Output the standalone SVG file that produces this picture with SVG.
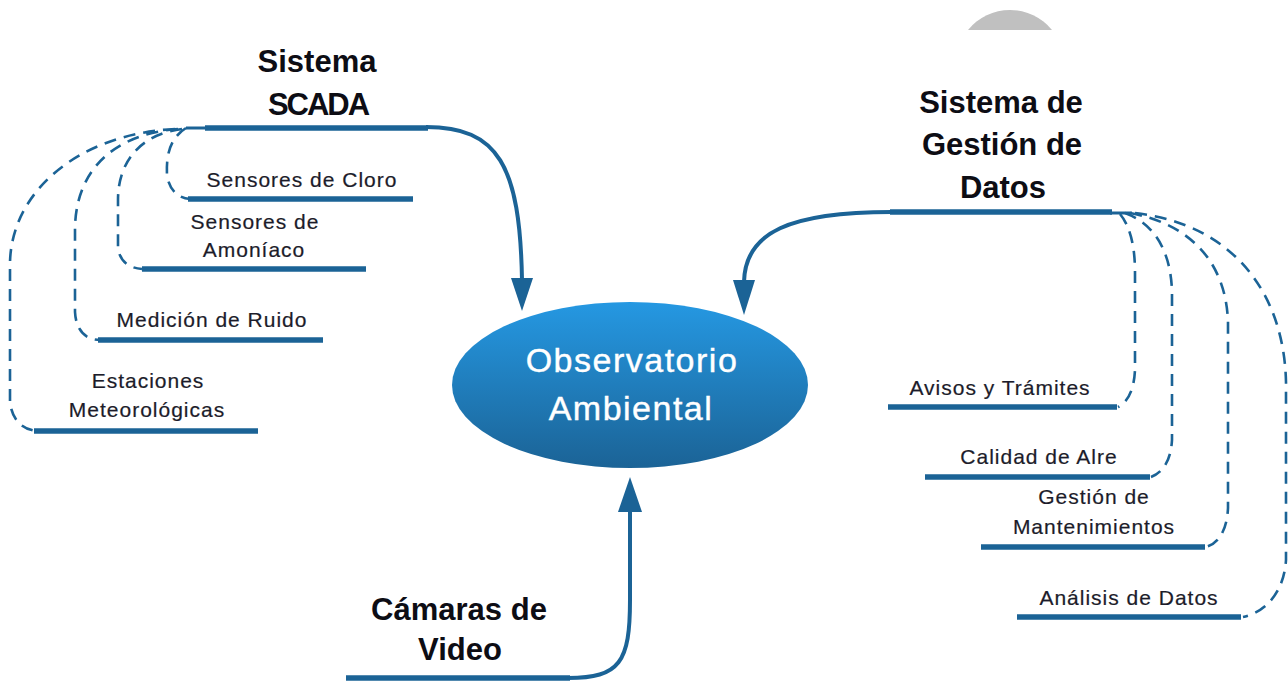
<svg xmlns="http://www.w3.org/2000/svg" width="1288" height="689" viewBox="0 0 1288 689">
<style>
.hdr{font-family:"Liberation Sans",Arial,sans-serif;font-weight:bold;font-size:31px;fill:#0d0d14;text-anchor:middle}
.lbl{font-family:"Liberation Sans",Arial,sans-serif;font-size:21px;letter-spacing:1px;fill:#1c1c2a;stroke:#1c1c2a;stroke-width:0.2;text-anchor:middle}
.ctr{font-family:"Liberation Sans",Arial,sans-serif;font-size:34px;letter-spacing:1.5px;fill:#ffffff;stroke:#ffffff;stroke-width:0.4;text-anchor:middle}
.bar{stroke:#1b6396;stroke-width:5.5;fill:none}
.thin{stroke:#1b6396;stroke-width:3;fill:none}
.arr{stroke:#1b6396;stroke-width:4;fill:none}
.dash{stroke:#1b6396;stroke-width:2.6;fill:none;stroke-dasharray:12 8}
.head{fill:#1b6396}
</style>
<defs>
<linearGradient id="eg" x1="0" y1="0" x2="0" y2="1">
<stop offset="0" stop-color="#2598e2"/>
<stop offset="1" stop-color="#1b6396"/>
</linearGradient>
</defs>
<rect width="1288" height="689" fill="#ffffff"/>
<path d="M968,30 A54,54 0 0 1 1052,30 Z" fill="#c0c0c0"/>

<g id="connectors">
<path class="thin" d="M186,128 L205,128"/>
<path class="arr" d="M426,127 C498,127 520,165 522,280"/>
<polygon class="head" points="511,278 533,278 522,311"/>
<path class="thin" d="M1110,213 L1132,213"/>
<path class="arr" d="M892,212 C790,212 745,232 744,282"/>
<polygon class="head" points="733,280 755,280 744,315"/>
<path class="arr" d="M568,678 C620,678 630,662 630,600 L630,510"/>
<polygon class="head" points="618,512 642,512 630,477"/>
<path class="dash" d="M186,128 C170,138 166,155 167,175 C169,190 178,198 190,199"/>
<path class="dash" d="M182,129 C142,134 118,160 118,200 L118,245 C118,259 127,268 142,269"/>
<path class="dash" d="M178,129 C112,134 75,172 75,230 L75,312 C76,331 86,340 100,340"/>
<path class="dash" d="M175,129 C80,134 12,190 10,262 L10,402 C12,420 22,429 36,431"/>
<path class="dash" d="M1120,214 C1130,226 1135,246 1135,272 L1135,370 C1134,390 1128,402 1118,407"/>
<path class="dash" d="M1125,213 C1155,224 1171,252 1172,292 L1172,440 C1171,459 1164,472 1151,477"/>
<path class="dash" d="M1130,213 C1190,224 1226,262 1228,322 L1228,508 C1227,530 1219,543 1206,547"/>
<path class="dash" d="M1135,213 C1232,224 1284,292 1286,382 L1286,560 C1284,592 1266,612 1243,617"/>
</g>

<g id="center">
<ellipse cx="630" cy="385" rx="178" ry="83" fill="url(#eg)"/>
<text class="ctr" x="632" y="372">Observatorio</text>
<text class="ctr" x="631" y="420">Ambiental</text>
</g>

<g id="scada">
<line class="bar" x1="205" y1="128" x2="428" y2="128"/>
<text class="hdr" x="317" y="72">Sistema</text>
<text class="hdr" x="318" y="115" letter-spacing="-2">SCADA</text>
</g>

<g id="gestion">
<line class="bar" x1="890" y1="212" x2="1112" y2="212"/>
<text class="hdr" x="1001" y="113">Sistema de</text>
<text class="hdr" x="1002" y="155">Gestión de</text>
<text class="hdr" x="1003" y="198">Datos</text>
</g>

<g id="camaras">
<line class="bar" x1="346" y1="678" x2="570" y2="678"/>
<text class="hdr" x="459" y="620">Cámaras de</text>
<text class="hdr" x="460" y="660">Video</text>
</g>

<g id="cloro">
<line class="bar" x1="188" y1="199" x2="413" y2="199"/>
<text class="lbl" x="302" y="187">Sensores de Cloro</text>
</g>
<g id="amoniaco">
<line class="bar" x1="142" y1="269" x2="366" y2="269"/>
<text class="lbl" x="255" y="229">Sensores de</text>
<text class="lbl" x="254" y="257">Amoníaco</text>
</g>
<g id="ruido">
<line class="bar" x1="98" y1="340" x2="323" y2="340"/>
<text class="lbl" x="212" y="327">Medición de Ruido</text>
</g>
<g id="estaciones">
<line class="bar" x1="34" y1="431" x2="258" y2="431"/>
<text class="lbl" x="148" y="388">Estaciones</text>
<text class="lbl" x="147" y="417">Meteorológicas</text>
</g>

<g id="avisos">
<line class="bar" x1="888" y1="407" x2="1117" y2="407"/>
<text class="lbl" x="1000" y="395">Avisos y Trámites</text>
</g>
<g id="calidad">
<line class="bar" x1="925" y1="477" x2="1150" y2="477"/>
<text class="lbl" x="1039" y="464">Calidad de Alre</text>
</g>
<g id="mantenimientos">
<line class="bar" x1="981" y1="547" x2="1205" y2="547"/>
<text class="lbl" x="1094" y="504">Gestión de</text>
<text class="lbl" x="1094" y="534">Mantenimientos</text>
</g>
<g id="analisis">
<line class="bar" x1="1017" y1="617" x2="1241" y2="617"/>
<text class="lbl" x="1129" y="605">Análisis de Datos</text>
</g>
</svg>
